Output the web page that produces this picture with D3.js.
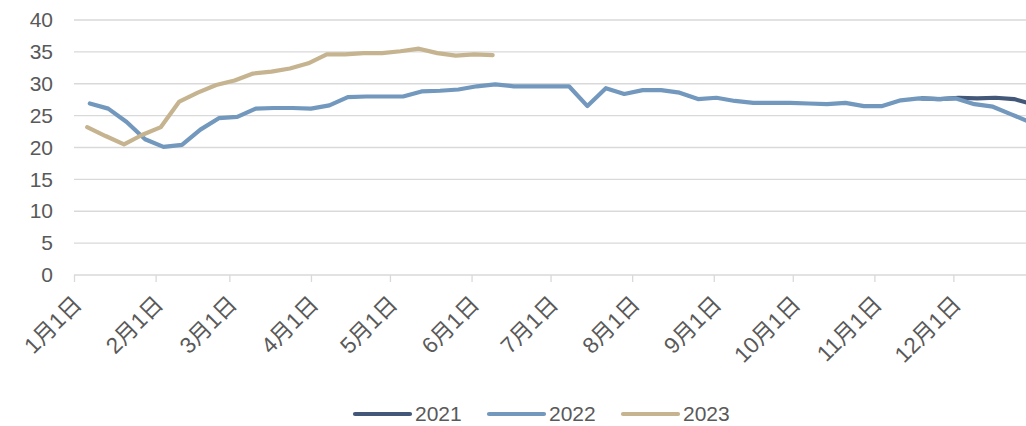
<!DOCTYPE html>
<html>
<head>
<meta charset="utf-8">
<script src="https://cdn.jsdelivr.net/npm/d3@7"></script>
<style>
  body { margin: 0; background: #fff; }
  svg text { font-family: "Liberation Sans", Arial, "Noto Sans CJK SC", sans-serif; fill: #595959; }
</style>
</head>
<body>
<svg id="chart" width="1026" height="426"></svg>
<script>
// weekly observations, plotted on a shared Jan-Dec axis (month-day)
var dates2021 = ["11-19", "11-26", "12-03", "12-10", "12-17", "12-24", "12-31"];
var values2021 = [27.7, 27.6, 27.8, 27.7, 27.8, 27.6, 26.8];

var dates2022 = ["01-07", "01-14", "01-21", "01-28", "02-04", "02-11", "02-18", "02-25",
    "03-04", "03-11", "03-18", "03-25", "04-01", "04-08", "04-15", "04-22", "04-29",
    "05-06", "05-13", "05-20", "05-27", "06-03", "06-10", "06-17", "06-24",
    "07-01", "07-08", "07-15", "07-22", "07-29", "08-05", "08-12", "08-19", "08-26",
    "09-02", "09-09", "09-16", "09-23", "09-30", "10-07", "10-14", "10-21", "10-28",
    "11-04", "11-11", "11-18", "11-25", "12-02", "12-09", "12-16", "12-23", "12-30"];
var values2022 = [26.9, 26.1, 24.0, 21.3, 20.1, 20.4, 22.8, 24.6,
    24.8, 26.1, 26.2, 26.2, 26.1, 26.6, 27.9, 28.0, 28.0,
    28.0, 28.8, 28.9, 29.1, 29.6, 29.9, 29.6, 29.6,
    29.6, 29.6, 26.5, 29.3, 28.4, 29.0, 29.0, 28.6, 27.6,
    27.8, 27.3, 27.0, 27.0, 27.0, 26.9, 26.8, 27.0, 26.5,
    26.5, 27.4, 27.7, 27.6, 27.7, 26.8, 26.4, 25.2, 24.0];

var dates2023 = ["01-06", "01-13", "01-20", "01-27", "02-03", "02-10", "02-17", "02-24",
    "03-03", "03-10", "03-17", "03-24", "03-31", "04-07", "04-14", "04-21", "04-28",
    "05-05", "05-12", "05-19", "05-26", "06-02", "06-09"];
var values2023 = [23.2, 21.8, 20.5, 22.0, 23.2, 27.2, 28.6, 29.8,
    30.5, 31.6, 31.9, 32.4, 33.2, 34.6, 34.6, 34.8, 34.8,
    35.1, 35.5, 34.8, 34.4, 34.6, 34.5];

var seriesNames = ["2021", "2022", "2023"];
var seriesColors = ["#435879", "#7298bd", "#c5b48f"];
var yTicks = [0, 5, 10, 15, 20, 25, 30, 35, 40];

var svg = d3.select("#chart"),
    marginLeft = 74, marginTop = 20, axisY = 275, plotRight = 1026;

var parse = d3.timeParse("%Y-%m-%d");
function toDate(md) { return parse("2022-" + md); }

var x = d3.scaleTime()
    .domain([toDate("01-01"), parse("2023-01-01")])
    .range([marginLeft, 1035]);

var y = d3.scaleLinear().domain([0, 40]).range([axisY, marginTop]);

// gridlines
svg.append("g").selectAll("line")
    .data(yTicks.filter(function(d) { return d > 0; }))
    .enter().append("line")
    .attr("x1", marginLeft).attr("x2", plotRight)
    .attr("y1", function(d) { return y(d); })
    .attr("y2", function(d) { return y(d); })
    .attr("stroke", "#d9d9d9").attr("stroke-width", 1.3);

// y axis labels
var yAxis = svg.append("g")
    .attr("transform", "translate(" + marginLeft + ",0)")
    .call(d3.axisLeft(y).tickValues(yTicks).tickSize(0).tickPadding(21));
yAxis.select(".domain").remove();
yAxis.selectAll("text").style("font-size", "21px").attr("fill", "#595959");

// x axis
var months = d3.timeMonth.range(toDate("01-01"), toDate("12-31"));
var xAxis = svg.append("g")
    .attr("transform", "translate(0," + axisY + ")")
    .call(d3.axisBottom(x).tickValues(months).tickSize(7).tickFormat(d3.timeFormat("%-m月%-d日")));
xAxis.select(".domain").attr("d", "M" + marginLeft + ",0H" + plotRight).attr("stroke", "#d9d9d9").attr("stroke-width", 1.3);
xAxis.selectAll(".tick line").attr("stroke", "#d9d9d9").attr("stroke-width", 1.3);
xAxis.selectAll(".tick text")
    .style("font-size", "22.5px")
    .attr("fill", "#595959")
    .attr("text-anchor", "end")
    .attr("y", 0).attr("dy", "0.35em")
    .attr("transform", "translate(3,25) rotate(-45)");

// lines
var line = d3.line()
    .x(function(d) { return x(d.date); })
    .y(function(d) { return y(d.value); });

var allDates = [dates2021, dates2022, dates2023];
var allValues = [values2021, values2022, values2023];

seriesNames.forEach(function(name, i) {
    var data = allDates[i].map(function(md, j) { return { date: toDate(md), value: allValues[i][j] }; });
    svg.append("path")
        .datum(data)
        .attr("d", line)
        .attr("fill", "none")
        .attr("stroke", seriesColors[i])
        .attr("stroke-width", 4.2)
        .attr("stroke-linejoin", "round")
        .attr("stroke-linecap", "round");
});

// legend
var legend = svg.append("g").attr("transform", "translate(355,414)");
var item = legend.selectAll("g")
    .data(seriesNames)
    .enter().append("g")
    .attr("transform", function(d, i) { return "translate(" + i * 134 + ",0)"; });
item.append("line")
    .attr("x1", 0).attr("x2", 55)
    .attr("stroke", function(d, i) { return seriesColors[i]; })
    .attr("stroke-width", 4.2)
    .attr("stroke-linecap", "round");
item.append("text")
    .attr("x", 60).attr("dy", "0.35em")
    .style("font-size", "21px")
    .text(function(d) { return d; });
</script>
</body>
</html>
